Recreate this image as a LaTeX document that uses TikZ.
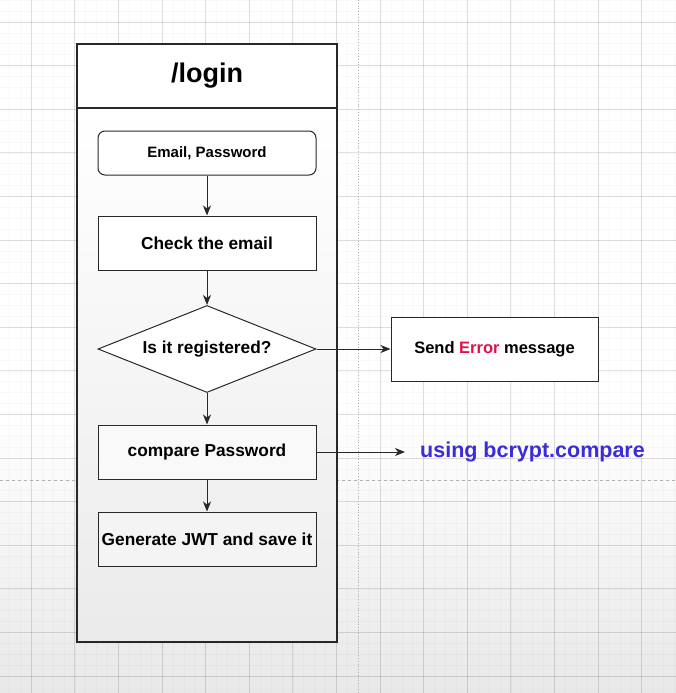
\documentclass[tikz,border=0pt]{standalone}
\usepackage{fontspec}
\setmainfont{Liberation Sans}
\usetikzlibrary{arrows.meta,shapes.geometric}
\definecolor{errred}{RGB}{222,18,72}
\definecolor{hashblue}{RGB}{58,44,214}
\definecolor{edge}{RGB}{40,40,40}

\begin{document}
\begin{tikzpicture}[x=1pt,y=-1pt,
    gridminor/.style={black,opacity=0.025,line width=0.6pt},
    gridmajor/.style={black,opacity=0.11,line width=0.8pt},
    lane/.style={rectangle,draw=edge,line width=1.1pt,minimum width=260pt,minimum height=534pt,inner sep=0pt,
        top color=white,middle color=white,bottom color=gray!16},
    title/.style={rectangle,draw=edge,fill=white,line width=1.1pt,minimum width=260pt,minimum height=64pt,inner sep=0pt,
        font=\fontsize{27}{30}\selectfont\bfseries},
    stepbox/.style={rectangle,draw=edge,fill=white,line width=1pt,minimum width=218pt,minimum height=54pt,inner sep=0pt,
        font=\fontsize{17.3}{20}\selectfont\bfseries},
    inbox/.style={stepbox,rounded corners=7pt,minimum height=44pt,font=\fontsize{15}{18}\selectfont\bfseries},
    decision/.style={diamond,draw=edge,fill=white,line width=1pt,aspect=2.5,minimum width=218pt,minimum height=87pt,
        inner sep=0pt,font=\fontsize{17.3}{20}\selectfont\bfseries},
    note/.style={text=hashblue,inner sep=0pt,font=\fontsize{21.5}{24}\selectfont\bfseries},
    flow/.style={-{Stealth[length=10pt,width=8pt,inset=3pt]},line width=1pt,edge}
]
\useasboundingbox (0,0) rectangle (676,693);

% canvas
\fill[white] (0,0) rectangle (676,693);
\shade[top color=white,bottom color=gray!18] (0,420) rectangle (676,693);
\foreach \i in {0,...,62} {
  \draw[gridminor] ({9.4+10.9*\i},0) -- ++(0,693);
  \draw[gridminor] (0,{0.2+10.9*\i}) -- ++(676,0);
}
\foreach \i in {0,...,15} {
  \draw[gridmajor] ({31.2+43.6*\i},0) -- ++(0,693);
  \draw[gridmajor] (0,{22+43.6*\i}) -- ++(676,0);
}
\draw[black!30,dotted,line width=0.8pt] (358,0) -- (358,693);
\draw[black!30,dashed,line width=0.6pt] (0,480) -- (676,480);

% swimlane
\node[lane] (lane) at (207,375) {};
\node[title] (head) at (207,76) {/login};

% steps
\node[inbox] (input) at (207,153) {Email, Password};
\node[stepbox] (check) at (207,243) {Check the email};
\node[decision] (reg) at (207,349) {Is it registered?};
\node[stepbox,minimum width=207pt,minimum height=64pt,font=\fontsize{16.5}{20}\selectfont\bfseries] (error) at (494.5,349)
    {Send \textcolor{errred}{Error} message};
\node[stepbox,fill=gray!5] (compare) at (207,452) {compare Password};
\node[stepbox,fill=gray!9] (jwt) at (207,539) {Generate JWT and save it};
\node[note] (bcrypt) at (532.5,452) {using bcrypt.compare};
\coordinate (hashend) at (405,452);

% arrows
\draw[flow] (input) -- (check);
\draw[flow] (check) -- (reg);
\draw[flow] (reg) -- (compare);
\draw[flow] (compare) -- (jwt);
\draw[flow] (reg) -- (error);
\draw[flow] (compare) -- (hashend);

\end{tikzpicture}
\end{document}
